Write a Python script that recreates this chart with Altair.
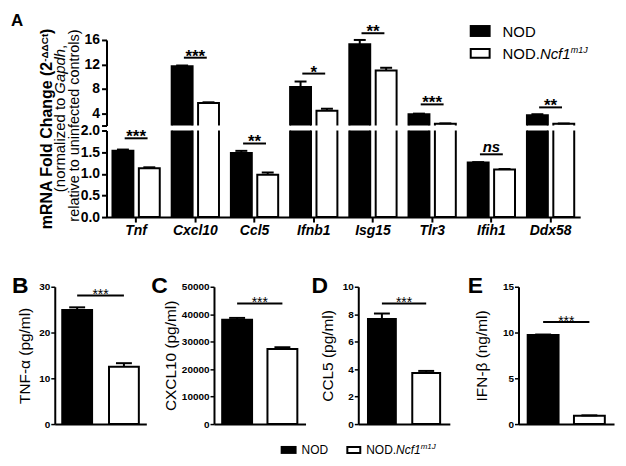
import altair as alt
import pandas as pd

FONT = "Liberation Sans"

# ---------------- data ----------------
groups = ["NOD", "NOD.Ncf1m1J"]

genes = ["Tnf", "Cxcl10", "Ccl5", "Ifnb1", "Isg15", "Tlr3", "Ifih1", "Ddx58"]
nod_mrna = [1.53, 11.7, 1.48, 8.3, 15.3, 3.85, 1.26, 3.7]
nod_mrna_err = [0.03, 0.12, 0.05, 0.9, 0.7, 0.1, 0.01, 0.15]
ko_mrna = [1.13, 5.7, 0.98, 4.4, 11.0, 2.3, 1.10, 2.3]
ko_mrna_err = [0.02, 0.1, 0.05, 0.35, 0.45, 0.05, 0.01, 0.05]
mrna_sig_y = [1.82, 13.1, 1.70, 10.5, 17.1, 5.46, 1.45, 4.97]
mrna_sig_txt = ["***", "***", "**", "*", "**", "***", "ns", "**"]

tnf_vals = [24.9, 12.5]
tnf_err = [0.6, 0.8]
cxcl10_vals = [38000, 27300]
cxcl10_err = [650, 650]
ccl5_vals = [7.65, 3.72]
ccl5_err = [0.4, 0.15]
ifnb_vals = [9.72, 0.9]
ifnb_err = [0.06, 0.05]
elisa_sig_y = [28.1, 43900, 8.78, 11.15]
elisa_sig_txt = ["***", "***", "***", "***"]

fill_scale = alt.Scale(domain=groups, range=["black", "white"])
fill = alt.Fill("group:N", scale=fill_scale, legend=None)


def one(text):
    return pd.DataFrame({"t": [text]})


def label(text, x, y, size, weight="normal", style="normal", angle=0, align="left"):
    return alt.Chart(one(text)).mark_text(
        font=FONT, fontSize=size, fontWeight=weight, fontStyle=style,
        angle=angle, align=align, baseline="alphabetic", color="black"
    ).encode(text="t:N", x=alt.value(x), y=alt.value(y))


def box(x1, x2, y1, y2, color, outline=False):
    kw = dict(fill=color)
    if outline:
        kw.update(stroke="black", strokeWidth=2)
    return alt.Chart(one("")).mark_rect(**kw).encode(
        x=alt.value(x1), x2=alt.value(x2), y=alt.value(y1), y2=alt.value(y2))


# ---------------- panel A ----------------
rows = []
for g, vals, errs in [(groups[0], nod_mrna, nod_mrna_err), (groups[1], ko_mrna, ko_mrna_err)]:
    for gene, v, e in zip(genes, vals, errs):
        rows.append({"gene": gene, "group": g, "value": v, "top": v + e})
a_df = pd.DataFrame(rows)
up_df = a_df[a_df["top"] > 2]
lo_df = a_df[a_df["top"] <= 2]
sig_df = pd.DataFrame({"gene": genes, "y": mrna_sig_y, "t": mrna_sig_txt})

xs_a = alt.Scale(domain=genes, range=[52, 528], paddingInner=0, paddingOuter=0)
xo_a = alt.Scale(domain=groups, paddingInner=0.2075, paddingOuter=0.226)
xoff = alt.XOffset("group:N", sort=groups, scale=xo_a)

axis_style = dict(labelFontSize=14, labelFontWeight="bold", tickSize=5, tickWidth=2,
                  domainWidth=2, labelPadding=2, title=None, grid=False)


def a_panel(seg):
    if seg == "upper":
        yscale = alt.Scale(domain=[2, 16], zero=False, nice=False)
        yaxis = alt.Axis(orient="left", offset=-52, values=[2, 4, 8, 12, 16],
                         labelExpr="datum.value == 2 ? '' : datum.label", **axis_style)
        xaxis = None
        edf = up_df
        sdf = sig_df[sig_df["y"] > 2]
    else:
        yscale = alt.Scale(domain=[0, 2], nice=False)
        yaxis = alt.Axis(orient="left", offset=-52, values=[0, 0.5, 1, 1.5, 2],
                         format=".1f", **axis_style)
        xaxis = alt.Axis(labelFontStyle="italic", labelAngle=0, **axis_style)
        edf = lo_df
        sdf = sig_df[sig_df["y"] <= 2]

    def Y(f):
        return alt.Y(f, type="quantitative", scale=yscale, axis=yaxis)

    X = alt.X("gene:N", sort=genes, scale=xs_a, axis=xaxis)
    bar_enc = dict(x=X, xOffset=xoff, y=Y("value"), fill=fill)
    if seg == "upper":
        bar_enc["y2"] = alt.datum(0)
    layers = [
        alt.Chart(a_df).mark_bar(stroke="black", strokeWidth=2, clip=True).encode(**bar_enc),
        alt.Chart(edf).mark_rule(color="black", strokeWidth=2).encode(
            x=X, xOffset=xoff, y=Y("value"), y2="top"),
        alt.Chart(edf).mark_tick(color="black", thickness=2, size=12, opacity=1).encode(
            x=X, xOffset=xoff, y=Y("top")),
        alt.Chart(sdf).mark_tick(color="black", thickness=2, size=23, opacity=1).encode(
            x=X, y=Y("y")),
    ]
    stars = sdf[sdf["t"] != "ns"]
    ns = sdf[sdf["t"] == "ns"]
    if len(stars):
        layers.append(alt.Chart(stars).mark_text(
            font=FONT, fontSize=17, fontWeight="bold", baseline="alphabetic", dy=4, color="black"
        ).encode(x=X, y=Y("y"), text="t:N"))
    if len(ns):
        layers.append(alt.Chart(ns).mark_text(
            font=FONT, fontSize=15, fontWeight="bold", fontStyle="italic",
            baseline="alphabetic", dy=-2, color="black"
        ).encode(x=X, y=Y("y"), text="t:N"))
    if seg == "upper":
        layers += [
            label("A", -44, -14, 17, weight="bold"),
            label("mRNA Fold Change (2", -3, 22, 16, weight="bold", angle=270, align="right"),
            label("-ΔΔCt", -7, 22, 10, weight="bold", angle=270, align="left"),
            label(")", -3, -6, 16, weight="bold", angle=270, align="left"),
            label("(normalized to", 10.5, 58, 15, angle=270, align="right"),
            label("Gapdh", 10.5, 54, 15, style="italic", angle=270, align="left"),
            label(",", 10.5, 9, 15, angle=270, align="left"),
            label("relative to uninfected controls)", 24, 86, 14.5, angle=270, align="center"),
            box(417, 438, -15, -3, "black"),
            label("NOD", 450, -3, 15),
            box(418, 437, 9, 18, "white", outline=True),
            label("NOD.", 450, 19, 15),
            label("Ncf1", 487.5, 19, 15, style="italic"),
            label("m1J", 518.5, 13, 9, style="italic"),
        ]
    h = 86 if seg == "upper" else 87
    return alt.layer(*layers).properties(width=528, height=h)


upper = a_panel("upper")
lower = a_panel("lower")


# ---------------- panels B-E ----------------
def elisa(letter, title, vals, errs, sig, stars, ymax, ticks, plot_w, vis_w,
          pin, pout, title_pad, letter_x, extra=None):
    df = pd.DataFrame({"group": groups, "value": vals, "err": errs})
    df["top"] = df["value"] + df["err"]
    sdf = pd.DataFrame({"g1": [groups[0]], "g2": [groups[1]], "y": [sig], "t": [stars]})
    xs = alt.Scale(domain=groups, range=[0, vis_w], paddingInner=pin, paddingOuter=pout)
    xaxis = alt.Axis(labels=False, ticks=False, title=None, domainWidth=2, grid=False)
    ys = alt.Scale(domain=[0, ymax], range=[203, 65], nice=False)
    yaxis = alt.Axis(values=ticks, format="d", title=title, titlePadding=title_pad,
                     titleFontSize=15.5, titleFontWeight="normal",
                     labelFontSize=10, labelFontWeight="bold", labelPadding=1,
                     tickSize=4, tickWidth=1.5, domainWidth=2, grid=False)

    def Y(f):
        return alt.Y(f, type="quantitative", scale=ys, axis=yaxis)

    X = alt.X("group:N", sort=groups, scale=xs, axis=xaxis)
    layers = [
        alt.Chart(df).mark_bar(stroke="black", strokeWidth=2).encode(x=X, y=Y("value"), fill=fill),
        alt.Chart(df).mark_rule(color="black", strokeWidth=2).encode(x=X, y=Y("value"), y2="top"),
        alt.Chart(df).mark_tick(color="black", thickness=2, size=16, opacity=1).encode(x=X, y=Y("top")),
        alt.Chart(sdf).mark_rule(color="black", strokeWidth=2).encode(
            x=alt.X("g1:N", scale=xs, axis=xaxis), x2="g2", y=Y("y")),
        alt.Chart(sdf).mark_text(font=FONT, fontSize=14, baseline="alphabetic", dy=4,
                                 color="black").encode(
            x=alt.value(vis_w / 2), y=Y("y"), text="t:N"),
        label(letter, letter_x, 71, 23, weight="bold"),
    ]
    if extra:
        layers += extra
    return alt.layer(*layers).properties(width=plot_w, height=203)


legend_bottom = [
    box(-78, -62, 225, 233, "black"),
    label("NOD", -57, 233, 12),
    box(-11, 2, 226, 232, "white", outline=True),
    label("NOD.", 8, 233, 12),
    label("Ncf1", 38, 233, 12, style="italic"),
    label("m1J", 62.7, 228, 8, style="italic"),
]

pB = elisa("B", "TNF-α (pg/ml)", tnf_vals, tnf_err, elisa_sig_y[0], elisa_sig_txt[0],
           30, [0, 10, 20, 30], 160, 92, 0.362, 0.16, 6, -43)
pC = elisa("C", "CXCL10 (pg/ml)", cxcl10_vals, cxcl10_err, elisa_sig_y[1], elisa_sig_txt[1],
           50000, [0, 10000, 20000, 30000, 40000, 50000], 145, 92, 0.34, 0.181, 3, -63)
pD = elisa("D", "CCL5 (pg/ml)", ccl5_vals, ccl5_err, elisa_sig_y[2], elisa_sig_txt[2],
           10, [0, 2, 4, 6, 8, 10], 161, 92, 0.371, 0.219, 7, -47, extra=legend_bottom)
pE = elisa("E", "IFN-β (ng/ml)", ifnb_vals, ifnb_err, elisa_sig_y[3], elisa_sig_txt[3],
           15, [0, 5, 10, 15], 96, 96, 0.333, 0.199, 13, -51)

bottom = alt.hconcat(pB, pC, pD, pE, spacing=0, bounds="flush")

chart = alt.vconcat(upper, lower, bottom, spacing=5, bounds="flush").properties(
    padding={"left": 3, "top": 3, "right": 4, "bottom": 4}
).configure_view(strokeWidth=0).configure_axis(
    grid=False, domainColor="black", tickColor="black", labelColor="black",
    titleColor="black", labelFont=FONT, titleFont=FONT
)

chart.save("out.html", embed_options={"renderer": "svg", "actions": False})
